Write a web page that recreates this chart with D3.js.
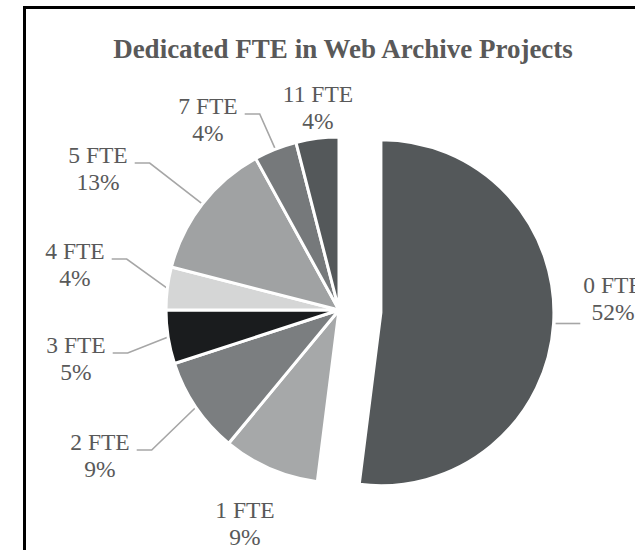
<!DOCTYPE html>
<html>
<head>
<meta charset="utf-8">
<script src="https://cdn.jsdelivr.net/npm/d3@7/dist/d3.min.js"></script>
<style>
  html, body { margin: 0; padding: 0; background: #fff; }
  svg { display: block; }
</style>
</head>
<body>
<svg id="chart" width="635" height="550"></svg>
<script>
// Share of web archive projects by dedicated full-time staff
const categories = ["0 FTE", "1 FTE", "2 FTE", "3 FTE", "4 FTE", "5 FTE", "7 FTE", "11 FTE"];
const shares = [52, 9, 9, 5, 4, 13, 4, 4];
const sliceColors = ["#54585a", "#a6a8a9", "#7b7e80", "#1a1c1e", "#d5d6d6", "#a0a2a3", "#76797b", "#54585a"];
const titleText = "Dedicated FTE in Web Archive Projects";

const svg = d3.select("#chart");

// frame (runs off the right and bottom edges)
svg.append("rect")
  .attr("x", 24.5).attr("y", 7.5)
  .attr("width", 700).attr("height", 700)
  .attr("fill", "none").attr("stroke", "#000").attr("stroke-width", 3);

svg.append("text")
  .attr("x", 343).attr("y", 58)
  .attr("text-anchor", "middle")
  .attr("font-family", "'Liberation Serif', 'Times New Roman', serif")
  .attr("font-weight", "bold")
  .attr("font-size", 27)
  .attr("fill", "#595959")
  .text(titleText);

const cx = 339, cy = 310, R = 173;
const explode = 42; // first slice pulled out along its bisector

const pie = d3.pie().sort(null).value(d => d.value);
const arcs = pie(categories.map((c, i) => ({ name: c, value: shares[i], color: sliceColors[i] })));
const arc = d3.arc().innerRadius(0).outerRadius(R);

const offsetOf = (d, i) => {
  if (i !== 0) return [0, 0];
  const a = (d.startAngle + d.endAngle) / 2;
  return [explode * Math.sin(a), -explode * Math.cos(a)];
};

const g = svg.append("g").attr("transform", `translate(${cx},${cy})`);

g.selectAll("path.slice")
  .data(arcs)
  .join("path")
  .attr("class", "slice")
  .attr("transform", (d, i) => { const o = offsetOf(d, i); return `translate(${o[0]},${o[1]})`; })
  .attr("d", arc)
  .attr("fill", d => d.data.color)
  .attr("stroke", "#fff")
  .attr("stroke-width", 3)
  .attr("stroke-linejoin", "round");

// label placement: centre x and first-line baseline, relative to the page
const labelLayout = [
  { x: 613, y: 293, side: "right" },
  { x: 245, y: 518, side: "none" },
  { x: 100, y: 450, side: "left" },
  { x: 76, y: 353, side: "left" },
  { x: 75, y: 259, side: "left" },
  { x: 98, y: 163, side: "left" },
  { x: 208, y: 114, side: "left" },
  { x: 318, y: 102, side: "none" }
];
const lineGap = 27;
const labelFont = "'Liberation Serif', 'Times New Roman', serif";

const labels = svg.append("g");
const leaders = svg.insert("g", "g");

arcs.forEach((d, i) => {
  const L = labelLayout[i];
  const t = labels.append("text")
    .attr("text-anchor", "middle")
    .attr("font-family", labelFont)
    .attr("font-size", 23.5)
    .attr("fill", "#595959");
  t.append("tspan").attr("x", L.x).attr("y", L.y).text(d.data.name);
  t.append("tspan").attr("x", L.x).attr("y", L.y + lineGap).text(d.data.value + "%");

  if (L.side === "none") return;
  const o = offsetOf(d, i);
  const a = (d.startAngle + d.endAngle) / 2;
  const px = cx + o[0] + R * Math.sin(a);
  const py = cy + o[1] - R * Math.cos(a);
  const w = t.select("tspan").node().getComputedTextLength();
  let pts;
  if (L.side === "left") {
    const x0 = L.x + w / 2 + 7;
    pts = [[x0, L.y], [x0 + 15, L.y], [px, py]];
  } else {
    const x1 = L.x - w / 2 - 3;
    pts = [[px + 2, py], [x1, py]];
  }
  leaders.append("path")
    .attr("d", d3.line()(pts))
    .attr("fill", "none")
    .attr("stroke", "#a6a6a6")
    .attr("stroke-width", 1.6);
});
</script>
</body>
</html>
